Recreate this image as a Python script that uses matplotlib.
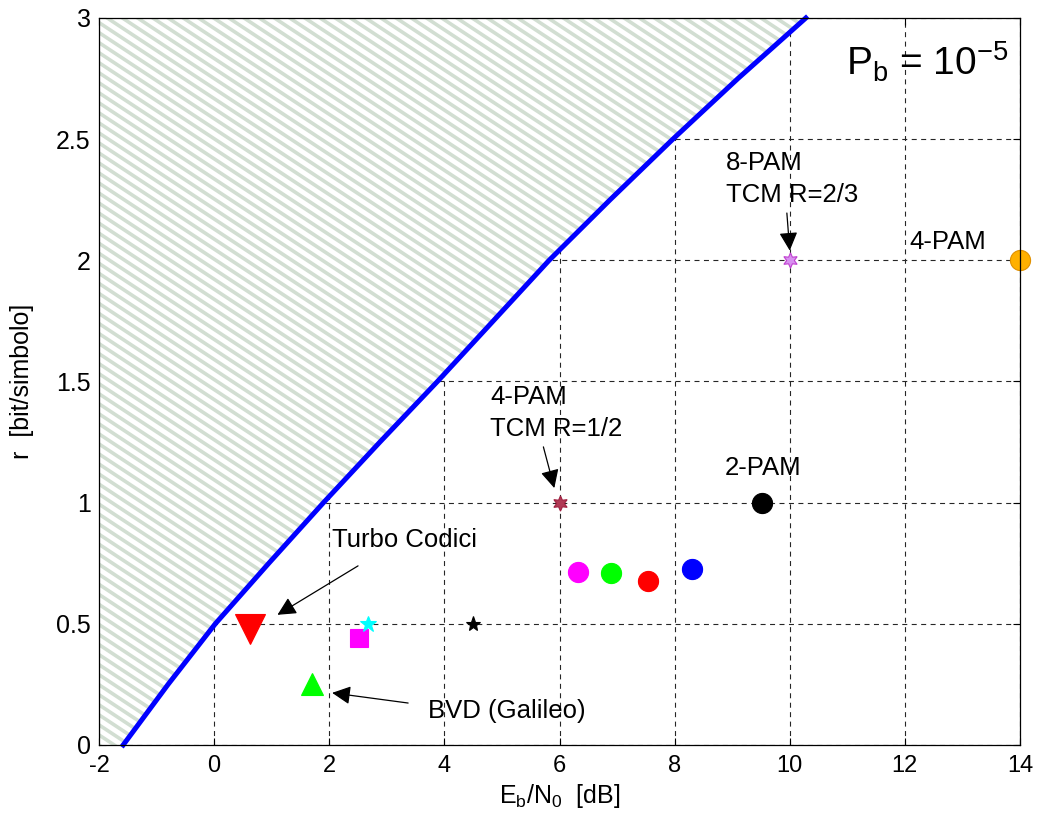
import matplotlib
matplotlib.use('Agg')
import matplotlib.pyplot as plt
import numpy as np
from matplotlib.collections import LineCollection

plt.rcParams['font.family'] = ['Liberation Sans', 'DejaVu Sans']
plt.rcParams['mathtext.fontset'] = 'custom'
plt.rcParams['mathtext.rm'] = 'Liberation Sans'
plt.rcParams['mathtext.it'] = 'Liberation Sans:italic'
plt.rcParams['axes.unicode_minus'] = False

# limite di Shannon: r [bit/simbolo] -> Eb/N0 [dB]
r_lim = [0, 0.25, 0.5, 0.75, 1.0, 1.25, 1.5, 1.75, 2.0, 2.25, 2.5, 2.75, 3.0]
eb_lim = [-1.58, -0.8, 0.02, 0.95, 1.9, 2.88, 3.88, 4.85, 5.82, 6.88, 7.97, 9.1, 10.28]

# punti dei sistemi
px = [0.63, 1.70, 2.51, 2.68, 4.49, 6.33, 6.89, 7.53, 8.30, 9.51, 6.0, 10.0, 14.0]
py = [0.48, 0.25, 0.44, 0.50, 0.50, 0.715, 0.71, 0.675, 0.725, 1.0, 1.0, 2.0, 2.0]
pm = ['v', '^', 's', '*', '*', 'o', 'o', 'o', 'o', 'o', (6, 1, 0), (6, 1, 0), 'o']
pc = ['#ff0000', '#00ff00', '#ff00ff', '#00ffff', 'black', '#ff00ff', '#00ff00',
      '#ff0000', '#0000ff', 'black', '#b03a55', '#d890f0', '#ffb000']
pe = ['#ff0000', '#00ff00', '#ff00ff', '#00ffff', 'black', '#ff00ff', '#00ff00',
      '#ff0000', '#0000ff', 'black', '#a02040', '#c040d0', '#e09000']
ps = [21, 16, 13, 12, 11, 14.5, 14.5, 14.5, 14.5, 14.5, 11, 11, 14.5]

xticks = [-2, 0, 2, 4, 6, 8, 10, 12, 14]
yticks = [0, 0.5, 1, 1.5, 2, 2.5, 3]
ytl = ['0', '0.5', '1', '1.5', '2', '2.5', '3']

fig = plt.figure(figsize=(10.39, 8.27), dpi=100)
ax = fig.add_axes([0.0953, 0.0992, 0.8864, 0.8791])

ax.set_axisbelow(True)
ax.grid(True, color='0.15', linestyle=(0, (4.5, 4)), linewidth=0.8)

# zona non raggiungibile (righe oblique)
zona = ax.fill_betweenx(r_lim, -2, eb_lim, facecolor='white', linewidth=0, zorder=2)
pend = 0.836
passo = 0.0138
righe = [[(0, b), (1, b - pend)] for b in np.arange(0, 1 + pend, passo)]
lc = LineCollection(righe, colors='#d2ded2', linewidths=2.6,
                    transform=ax.transAxes, zorder=2.1)
ax.add_collection(lc)
lc.set_clip_path(zona.get_paths()[0], ax.transData)

ax.plot(eb_lim, r_lim, color='#0000ff', linewidth=3.6, zorder=3, clip_on=False)

for i in range(len(px)):
    ax.plot(px[i], py[i], marker=pm[i], markersize=ps[i], color=pc[i],
            markerfacecolor=pc[i], markeredgecolor=pe[i], markeredgewidth=0.8,
            linestyle='none', zorder=5, clip_on=False)

fs = 18.5
arr = dict(arrowstyle='-|>', color='black', lw=0.9, mutation_scale=28, shrinkA=0, shrinkB=0)
ax.annotate('', xy=(1.1, 0.537), xytext=(2.5, 0.739), arrowprops=arr, zorder=6)
ax.text(2.05, 0.845, 'Turbo Codici', fontsize=fs, va='center', ha='left')
ax.annotate('', xy=(2.05, 0.215), xytext=(3.37, 0.173), arrowprops=arr, zorder=6)
ax.text(3.72, 0.14, 'BVD (Galileo)', fontsize=fs, va='center', ha='left')
ax.annotate('', xy=(5.91, 1.06), xytext=(5.72, 1.23), arrowprops=arr, zorder=6)
ax.text(4.8, 1.37, '4-PAM\nTCM R=1/2', fontsize=fs, va='center', ha='left', linespacing=1.45)
ax.annotate('', xy=(10.0, 2.04), xytext=(9.95, 2.195), arrowprops=arr, zorder=6)
ax.text(8.89, 2.335, '8-PAM\nTCM R=2/3', fontsize=fs, va='center', ha='left', linespacing=1.45)
ax.text(12.07, 2.076, '4-PAM', fontsize=fs, va='center', ha='left')
ax.text(8.87, 1.143, '2-PAM', fontsize=fs, va='center', ha='left')
ax.text(10.97, 2.82, r'P$_\mathregular{b}$ = 10$^\mathregular{-5}$', fontsize=28,
        va='center', ha='left')

ax.set_xlim(-2, 14)
ax.set_ylim(0, 3)
ax.set_xticks(xticks)
ax.set_yticks(yticks)
ax.set_yticklabels(ytl)
ax.tick_params(direction='in', top=True, right=True, length=5, width=0.8)
ax.tick_params(axis='x', labelsize=17, pad=7)
ax.tick_params(axis='y', labelsize=18, pad=6)
for s in ax.spines.values():
    s.set_linewidth(0.9)
    s.set_zorder(6)

ax.set_xlabel(r'E$_\mathregular{b}$/N$_\mathregular{0}$  [dB]', fontsize=18, labelpad=4)
ax.set_ylabel('r  [bit/simbolo]', fontsize=18, labelpad=16)

fig.savefig('out.png', dpi=100)
